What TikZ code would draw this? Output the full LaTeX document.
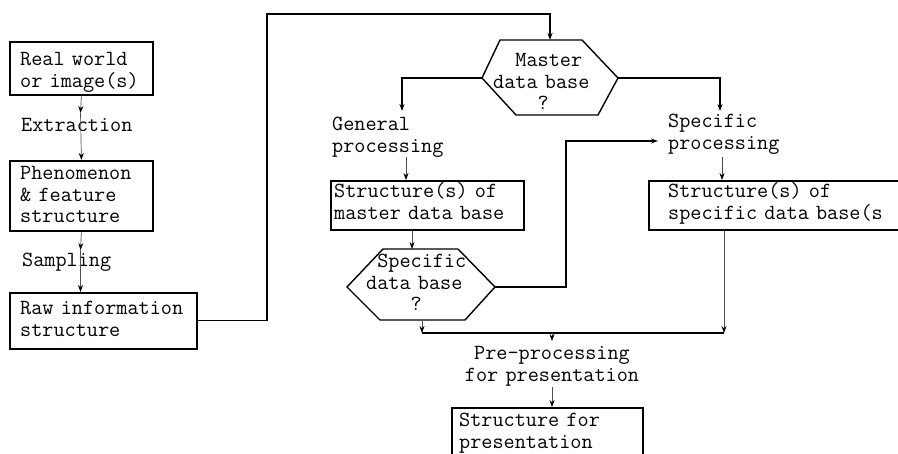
\documentclass[tikz,border=0pt]{standalone}
\usepackage{fontspec}
\usetikzlibrary{arrows.meta}
\begin{document}
\begin{tikzpicture}[x=1pt,y=-1pt,
  frame/.style={draw, line width=1.8pt, inner sep=0pt, anchor=north west},
  txt/.style={font={\ttfamily\fontsize{21.6pt}{21.5pt}\selectfont}, inner sep=0pt,
    text width=260pt, align=left, anchor=base west},
  txtc/.style={txt, text width=200pt, align=center, anchor=base},
  hexa/.style={draw, line width=1.4pt, line join=miter},
  link/.style={line width=1.1pt},
  tip/.style={-{Stealth[length=7pt,width=5pt,color=black]}},
  feed/.style={line width=0.7pt, draw=black!70, tip}
]
\fill[white] (0,0) rectangle (898,454);
\useasboundingbox (0,0) rectangle (898,454);

% ---- boxes ----
\node[frame, minimum width=143pt, minimum height=53pt] (world) at (9,41) {};
\node[txt] (worldT) at (20,66) {Real world\\or image(s)};
\node[frame, minimum width=143pt, minimum height=70pt] (feat) at (9,160) {};
\node[txt] (featT) at (20,180) {Phenomenon\\\& feature\\structure};
\node[frame, minimum width=187pt, minimum height=56pt] (raw) at (9,292) {};
\node[txt] (rawT) at (20,315) {Raw information\\structure};
\node[frame, minimum width=193pt, minimum height=49pt] (mstr) at (330,180) {};
\node[txt] (mstrT) at (334,198) {Structure(s) of\\master data base};
\node[frame, minimum width=262pt, minimum height=49pt] (sstr) at (648,180) {};
\node[txt] (sstrT) at (668,198) {Structure(s) of\\specific data base(s};
\node[frame, minimum width=191pt, minimum height=63pt] (pres) at (451,407) {};
\node[txt] (presT) at (459,427) {Structure for\\presentation};

% ---- decision hexagons ----
\coordinate (mL) at (482,78);
\coordinate (mR) at (618,78);
\coordinate (mT) at (550,40);
\draw[hexa] (500,40) -- (582,40) -- (mR) -- (598,115) -- (516,115) -- (mL) -- cycle;
\node[txt] (mq) at (493,67) {\hphantom{xx}Master\\data base\\\hphantom{xxxx}?};

\coordinate (sL) at (347,287);
\coordinate (sR) at (495,287);
\draw[hexa] (383,249) -- (458,249) -- (sR) -- (465,320) -- (380,320) -- (sL) -- cycle;
\node[txt] (sq) at (366,268) {\hphantom{x}Specific\\data base\\\hphantom{xxxx}?};

% ---- process labels ----
\node[txt] (extr) at (21,132) {Extraction};
\node[txt] (samp) at (22,267) {Sampling};
\node[txt] (gen) at (332,131) {General\\processing};
\node[txt] (spec) at (668,128) {Specific\\processing};
\node[txtc] (prep) at (552,360) {Pre-processing\\for presentation};

% ---- left column ----
\coordinate (a1) at (80.5,113);
\draw[feed] (world.south) -- (a1);
\draw[feed] (a1) -- (feat.north);
\coordinate (a2) at (80.5,250);
\draw[feed] (feat.south) -- (a2);
\draw[feed] (a2) -- (a2 |- raw.north);

% ---- raw information to master data base ----
\coordinate (up) at (267,14);
\draw[link, tip] (raw.east) -| (up) -| (mT);

% ---- general branch ----
\coordinate (gA) at (402,111);
\draw[link, tip] (mL) -| (gA);
\coordinate (gB) at (406,157);
\draw[feed] (gB) -- (gB |- mstr.north);
\coordinate (sT) at (412,249);
\draw[feed] (sT |- mstr.south) -- (sT);

% ---- specific branch ----
\coordinate (k) at (566,141);
\coordinate (sP) at (658,141);
\draw[link, tip] (sR) -| (k) -- (sP);
\coordinate (sA) at (720,111);
\draw[link, tip] (mR) -| (sA);
\coordinate (sB) at (722,157);
\draw[feed] (sB) -- (sB |- sstr.north);

% ---- merge towards presentation ----
\coordinate (j1) at (422,333);
\coordinate (j2) at (724,333);
\coordinate (sBot) at (422,320);
\draw[feed] (j2 |- sstr.south) -- (j2);
\draw[feed] (sBot) -- (j1);
\draw[link] (j1) -- (j2);
\coordinate (j3) at (552,333);
\coordinate (pA) at (552,341);
\draw[feed] (j3) -- (pA);
\coordinate (pB) at (552,387);
\draw[feed] (pB) -- (pB |- pres.north);
\end{tikzpicture}
\end{document}
